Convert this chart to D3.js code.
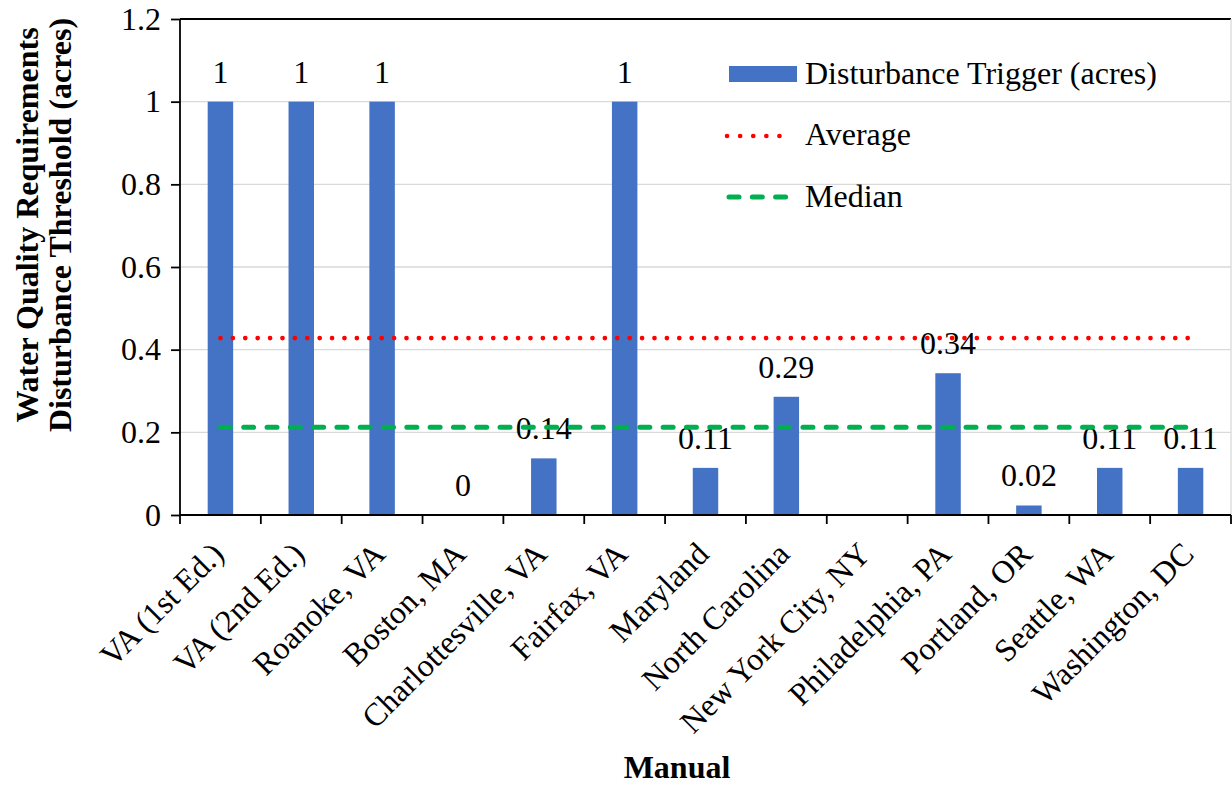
<html>
<script src="https://d3js.org/d3.v7.min.js"></script>
<style>
    body { margin: 0; background: #fff; }
    text { font-family: "Times New Roman", "Liberation Serif", serif; fill: #000; }
</style>
<body>
<svg width="1232" height="785"></svg>
<script>
    // chart values
    var manuals = ["VA (1st Ed.)", "VA (2nd Ed.)", "Roanoke, VA", "Boston, MA", "Charlottesville, VA",
        "Fairfax, VA", "Maryland", "North Carolina", "New York City, NY", "Philadelphia, PA",
        "Portland, OR", "Seattle, WA", "Washington, DC"];
    var triggerAcres = [1, 1, 1, 0, 0.137, 1, 0.114, 0.286, null, 0.343, 0.023, 0.114, 0.114];
    var averageAcres = 0.428;
    var medianAcres = 0.212;
    var yTicks = [0, 0.2, 0.4, 0.6, 0.8, 1, 1.2];

    var svg = d3.select("svg");
    var plotL = 180, plotR = 1231, plotT = 19, plotB = 515;
    var fs = "32px";
    var serif = '"Times New Roman", "Liberation Serif", serif';

    var xs = d3.scaleBand().domain(manuals).range([plotL, plotR]);
    var ys = d3.scaleLinear().domain([0, 1.2]).range([plotB, plotT]);
    var barW = xs.bandwidth() * 0.315;

    // gridlines
    svg.append("g").selectAll("line").data(yTicks.filter(function (d) { return d > 0 && d < 1.2; }))
        .enter().append("line")
        .attr("x1", plotL).attr("x2", plotR)
        .attr("y1", function (d) { return ys(d); }).attr("y2", function (d) { return ys(d); })
        .attr("stroke", "#d9d9d9").attr("stroke-width", 1.3);

    // plot frame top / right
    svg.append("line").attr("x1", plotL).attr("x2", plotR).attr("y1", ys(1.2)).attr("y2", ys(1.2))
        .attr("stroke", "#000").attr("stroke-width", 1.8);
    svg.append("line").attr("x1", plotR).attr("x2", plotR).attr("y1", ys(1.2)).attr("y2", ys(0))
        .attr("stroke", "#d9d9d9").attr("stroke-width", 1.3);

    // bars + value labels
    var bars = svg.append("g");
    triggerAcres.forEach(function (v, i) {
        if (v === null) return;
        var cx = xs(manuals[i]) + xs.bandwidth() / 2;
        bars.append("rect")
            .attr("x", cx - barW / 2)
            .attr("y", ys(v))
            .attr("width", barW)
            .attr("height", ys(0) - ys(v))
            .attr("fill", "#4472C4");
        bars.append("text")
            .attr("x", cx)
            .attr("y", ys(v) - 19)
            .attr("text-anchor", "middle")
            .style("font-size", fs)
            .text(d3.format(".2~f")(v));
    });

    // average / median lines
    var x0 = xs(manuals[0]) + xs.bandwidth() / 2;
    var x1 = xs(manuals[manuals.length - 1]) + xs.bandwidth() / 2;
    svg.append("line").attr("x1", x0).attr("x2", x1)
        .attr("y1", ys(averageAcres)).attr("y2", ys(averageAcres))
        .attr("stroke", "#FF0000").attr("stroke-width", 4.6)
        .attr("stroke-linecap", "round").attr("stroke-dasharray", "0.1 12.3");
    svg.append("line").attr("x1", x0).attr("x2", x1)
        .attr("y1", ys(medianAcres)).attr("y2", ys(medianAcres))
        .attr("stroke", "#00B050").attr("stroke-width", 5)
        .attr("stroke-linecap", "round").attr("stroke-dasharray", "10 13.3");

    // axes
    var yAxis = svg.append("g")
        .attr("transform", "translate(" + plotL + ",0)")
        .call(d3.axisLeft(ys).tickValues(yTicks).tickSize(9).tickPadding(10).tickFormat(d3.format("~g")))
        .attr("font-family", serif);
    yAxis.select(".domain").attr("stroke-width", 1.8).attr("d", "M0," + ys(1.2) + "V" + ys(0));
    yAxis.selectAll(".tick line").attr("stroke-width", 1.8);
    yAxis.selectAll("text").style("font-size", fs);

    var xAxis = svg.append("g")
        .attr("transform", "translate(0," + plotB + ")")
        .call(d3.axisBottom(xs).tickSize(0).tickFormat(""));
    xAxis.select(".domain").attr("stroke-width", 1.8).attr("d", "M" + plotL + ",0H" + plotR);
    // tick marks sit on category boundaries
    xAxis.selectAll("line.sep").data(d3.range(manuals.length + 1)).enter().append("line")
        .attr("class", "sep")
        .attr("x1", function (i) { return plotL + i * xs.step(); })
        .attr("x2", function (i) { return plotL + i * xs.step(); })
        .attr("y1", 0).attr("y2", 9)
        .attr("stroke", "#000").attr("stroke-width", 1.8);

    svg.append("g").selectAll("text").data(manuals).enter().append("text")
        .attr("transform", function (d) {
            var cx = xs(d) + xs.bandwidth() / 2;
            return "translate(" + (cx + 5) + "," + (plotB + 41) + ") rotate(-45)";
        })
        .attr("text-anchor", "end")
        .style("font-size", fs)
        .text(function (d) { return d; });

    // axis titles
    var yTitle = svg.append("text")
        .attr("transform", "translate(38,225) rotate(-90)")
        .attr("text-anchor", "middle")
        .style("font-size", "32px").style("font-weight", "bold");
    yTitle.append("tspan").attr("x", 0).attr("y", 0).text("Water Quality Requirements");
    yTitle.append("tspan").attr("x", 0).attr("y", 33).text("Disturbance Threshold (acres)");

    svg.append("text")
        .attr("x", 677).attr("y", 778)
        .attr("text-anchor", "middle")
        .style("font-size", "32px").style("font-weight", "bold")
        .text("Manual");

    // legend
    var legend = svg.append("g");
    legend.append("rect").attr("x", 729).attr("y", 66).attr("width", 68).attr("height", 16).attr("fill", "#4472C4");
    legend.append("text").attr("x", 805).attr("y", 84).style("font-size", fs).text("Disturbance Trigger (acres)");
    legend.append("line").attr("x1", 727).attr("x2", 792).attr("y1", 136).attr("y2", 136)
        .attr("stroke", "#FF0000").attr("stroke-width", 4.6)
        .attr("stroke-linecap", "round").attr("stroke-dasharray", "0.1 13");
    legend.append("text").attr("x", 805).attr("y", 145).style("font-size", fs).text("Average");
    legend.append("line").attr("x1", 729).attr("x2", 790).attr("y1", 197).attr("y2", 197)
        .attr("stroke", "#00B050").attr("stroke-width", 5)
        .attr("stroke-linecap", "round").attr("stroke-dasharray", "10 13.3");
    legend.append("text").attr("x", 805).attr("y", 207).style("font-size", fs).text("Median");
</script>
</body>
</html>
